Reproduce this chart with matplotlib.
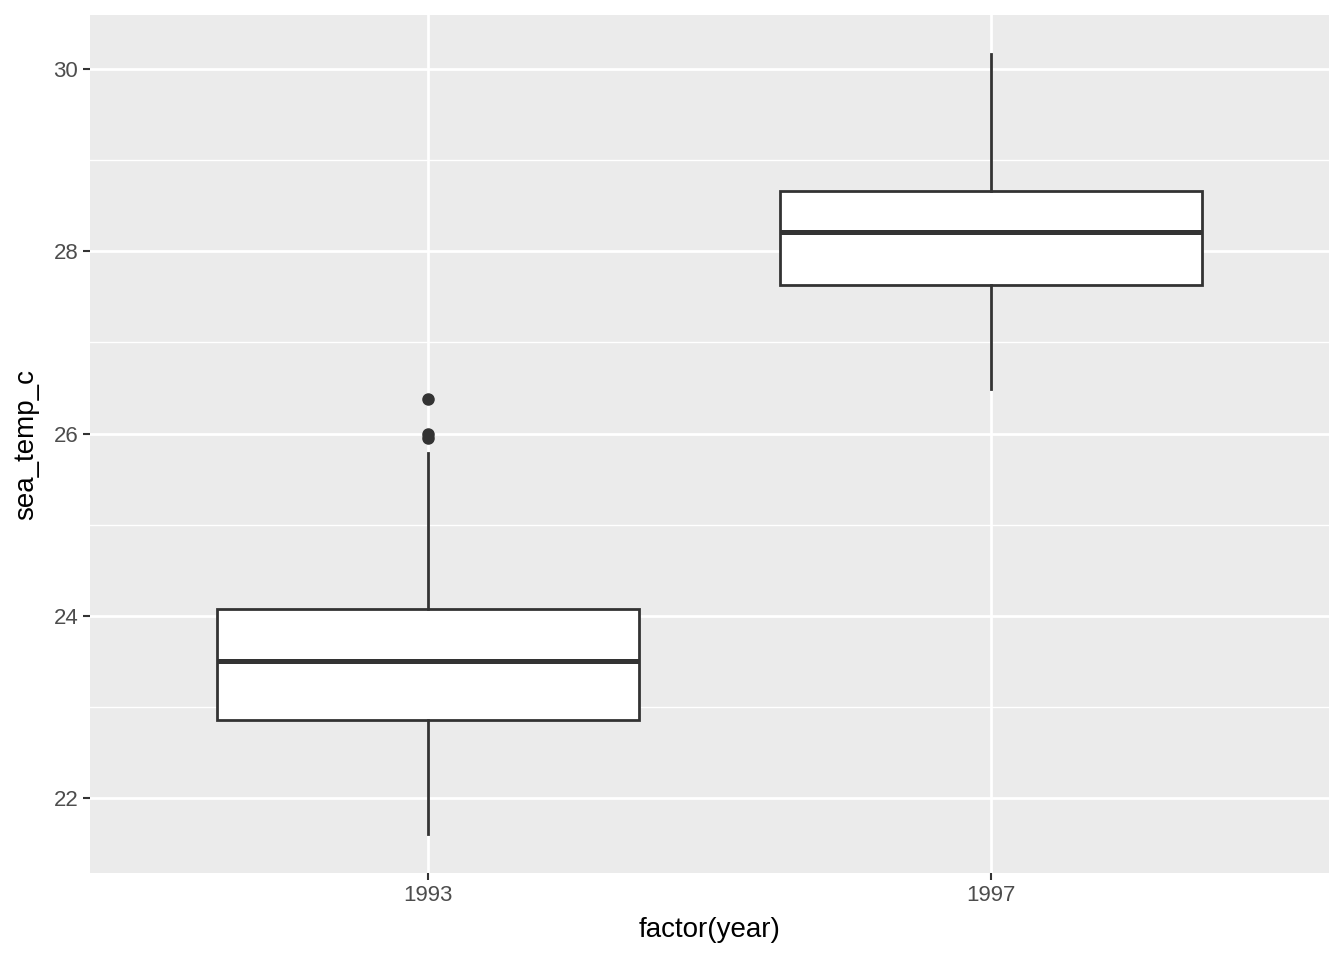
import matplotlib
matplotlib.use("Agg")
import matplotlib.pyplot as plt

plt.rcParams['font.family'] = ['Liberation Sans', 'DejaVu Sans']

# box statistics
years = ["1993", "1997"]
whislo = [21.60, 26.49]
q1 = [22.86, 27.63]
med = [23.50, 28.21]
q3 = [24.07, 28.66]
whishi = [25.79, 30.16]
fliers = [[26.38, 26.00, 25.95], []]

stats = []
for i, y in enumerate(years):
    stats.append(dict(label=y, whislo=whislo[i], q1=q1[i], med=med[i],
                      q3=q3[i], whishi=whishi[i], fliers=fliers[i]))

fig = plt.figure(figsize=(13.44, 9.6), dpi=100)
ax = fig.add_axes([90 / 1344, 1 - 873 / 960, (1329 - 90) / 1344, (873 - 15) / 960])
ax.set_facecolor("#EBEBEB")

dark = "#333333"
ax.bxp(stats, positions=[1, 2], widths=0.75, showcaps=False, patch_artist=True,
       boxprops=dict(facecolor="white", edgecolor=dark, linewidth=2.0),
       medianprops=dict(color=dark, linewidth=3.6),
       whiskerprops=dict(color=dark, linewidth=2.0),
       flierprops=dict(marker="o", markerfacecolor=dark, markeredgecolor=dark,
                       markersize=8), zorder=3)

ax.set_xlim(0.4, 2.6)
ax.set_ylim(21.177, 30.593)
ax.set_yticks([22, 24, 26, 28, 30])
ax.set_yticks([23, 25, 27, 29], minor=True)
ax.set_xticks([1, 2])
ax.set_xticklabels(years)

ax.grid(which="major", color="white", linewidth=2.0)
ax.grid(which="minor", axis="y", color="white", linewidth=1.0)
ax.set_axisbelow(True)
for s in ax.spines.values():
    s.set_visible(False)

ax.tick_params(axis="both", which="major", colors=dark, labelcolor="#4D4D4D",
               labelsize=16, length=5, width=1.5)
ax.tick_params(axis="y", which="minor", length=0)
ax.set_xlabel("factor(year)", fontsize=20, color="black", labelpad=8)
ax.set_ylabel("sea_temp_c", fontsize=20, color="black", labelpad=10)

fig.savefig("out.png", dpi=100)
